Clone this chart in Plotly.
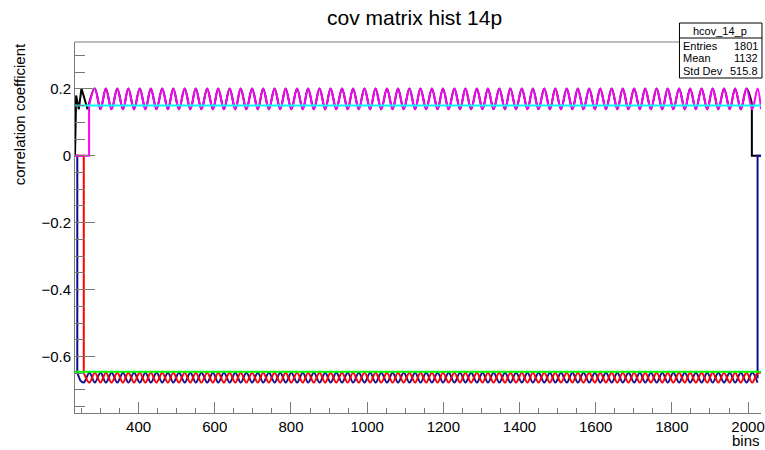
import plotly.graph_objects as go

# ---- axis ranges -------------------------------------------------------
X_MIN, X_MAX = 233, 2034
Y_MIN, Y_MAX = -0.769, 0.340

# ---- flat correlation lines --------------------------------------------
cyan_level = 0.150
green_level = -0.646

# ---- upper band (black / magenta): turning points, starting at a maximum
upper_high = 0.201
upper_low = 0.139
upper_turn_bins = [
    285, 300, 314, 329, 344, 359, 373, 388, 403, 418, 432, 447, 462, 477,
    491, 506, 521, 536, 550, 565, 580, 595, 609, 624, 639, 654, 668, 683,
    698, 713, 727, 742, 757, 772, 786, 801, 816, 831, 845, 860, 875, 890,
    904, 919, 934, 949, 963, 978, 993, 1008, 1022, 1037, 1052, 1067, 1081,
    1096, 1111, 1126, 1140, 1155, 1170, 1185, 1199, 1214, 1229, 1244, 1258,
    1273, 1288, 1303, 1317, 1332, 1347, 1362, 1376, 1391, 1406, 1421, 1435,
    1450, 1465, 1480, 1494, 1509, 1524, 1539, 1553, 1568, 1583, 1598, 1612,
    1627, 1642, 1657, 1671, 1686, 1701, 1716, 1730, 1745, 1760, 1775, 1789,
    1804, 1819, 1834, 1848, 1863, 1878, 1893, 1907, 1922, 1937, 1952, 1966,
    1981, 1996, 2011, 2025,
]

# ---- lower band (red / blue, opposite phase): turning points ------------
lower_high = -0.649
lower_low = -0.678
lower_turn_bins = [
    256, 271, 285, 300, 314, 329, 344, 359, 373, 388, 403, 418, 432, 447,
    462, 477, 491, 506, 521, 536, 550, 565, 580, 595, 609, 624, 639, 654,
    668, 683, 698, 713, 727, 742, 757, 772, 786, 801, 816, 831, 845, 860,
    875, 890, 904, 919, 934, 949, 963, 978, 993, 1008, 1022, 1037, 1052,
    1067, 1081, 1096, 1111, 1126, 1140, 1155, 1170, 1185, 1199, 1214, 1229,
    1244, 1258, 1273, 1288, 1303, 1317, 1332, 1347, 1362, 1376, 1391, 1406,
    1421, 1435, 1450, 1465, 1480, 1494, 1509, 1524, 1539, 1553, 1568, 1583,
    1598, 1612, 1627, 1642, 1657, 1671, 1686, 1701, 1716, 1730, 1745, 1760,
    1775, 1789, 1804, 1819, 1834, 1848, 1863, 1878, 1893, 1907, 1922, 1937,
    1952, 1966, 1981, 1996, 2011, 2025,
]

# ---- step segments at the ends of each histogram -------------------------
black_head_bins = [233, 236, 243, 250, 266]
black_head_vals = [0.0, 0.180, 0.139, 0.201, 0.139]
black_tail_bins = [2010, 2010, 2034]
black_tail_vals = [0.157, 0.0, 0.0]

magenta_head_bins = [233, 270, 270]
magenta_head_vals = [0.0, 0.0, 0.150]

blue_head_bins = [233, 239, 239, 247]
blue_head_vals = [0.0, 0.0, -0.649, -0.672]
blue_tail_bins = [2025, 2025, 2034]
blue_tail_vals = [-0.665, 0.0, 0.0]

red_head_bins = [233, 256, 256]
red_head_vals = [0.0, 0.0, -0.649]

# ---- statistics box ----------------------------------------------------
stats_name = "hcov_14_p"
stats_labels = ["Entries", "Mean", "Std Dev"]
stats_values = ["1801", "1132", "515.8"]

# ---- colours -----------------------------------------------------------
COL_BLACK = "#000000"
COL_RED = "#ff0000"
COL_BLUE = "#111190"
COL_GREEN = "#00ff00"
COL_MAGENTA = "#ff00ff"
COL_CYAN = "#00ffff"
AXIS_COL = "#7a7a7a"
FONT = "Liberation Sans, Arial, Helvetica, sans-serif"

W, H = 765, 450
L, R, T, B = 75, 0, 42, 37


def alternating(bins, first, second):
    return [first if i % 2 == 0 else second for i in range(len(bins))]


def px_x(p):
    return (p - L) / (W - L - R)


def px_y(p):
    return (H - B - p) / (H - T - B)


fig = go.Figure()


def add_line(xs, ys, color, spline=False, width=2):
    fig.add_trace(go.Scatter(
        x=xs, y=ys, mode="lines", showlegend=False, hoverinfo="skip",
        line=dict(color=color, width=width,
                  shape="spline" if spline else "linear", smoothing=1.0),
    ))


upper_vals = alternating(upper_turn_bins, upper_high, upper_low)
blue_vals = alternating(lower_turn_bins, lower_low, lower_high)
red_vals = alternating(lower_turn_bins, lower_high, lower_low)

# black histogram (mostly hidden below magenta)
add_line(black_head_bins, black_head_vals, COL_BLACK)
bk = [(b, v) for b, v in zip(upper_turn_bins, upper_vals) if b < black_tail_bins[0]]
add_line([black_head_bins[-1]] + [b for b, _ in bk] + [black_tail_bins[0]],
         [black_head_vals[-1]] + [v for _, v in bk] + [black_tail_vals[0]],
         COL_BLACK, spline=True)
add_line(black_tail_bins, black_tail_vals, COL_BLACK)

# blue histogram
add_line(blue_head_bins, blue_head_vals, COL_BLUE)
bl = [(b, v) for b, v in zip(lower_turn_bins, blue_vals) if b <= blue_tail_bins[0]]
add_line([blue_head_bins[-1]] + [b for b, _ in bl],
         [blue_head_vals[-1]] + [v for _, v in bl], COL_BLUE, spline=True)
add_line(blue_tail_bins, blue_tail_vals, COL_BLUE)

# red histogram
add_line(red_head_bins, red_head_vals, COL_RED)
add_line(lower_turn_bins + [X_MAX], red_vals + [lower_high], COL_RED, spline=True)

# magenta histogram
add_line(magenta_head_bins, magenta_head_vals, COL_MAGENTA)
add_line([magenta_head_bins[-1]] + upper_turn_bins + [X_MAX],
         [magenta_head_vals[-1]] + upper_vals + [upper_low], COL_MAGENTA, spline=True)

# flat lines
add_line([X_MIN, X_MAX], [green_level, green_level], COL_GREEN)
add_line([X_MIN, X_MAX], [cyan_level, cyan_level], COL_CYAN)

tickfont = dict(family=FONT, size=15, color="#000000")

fig.update_layout(
    width=W, height=H,
    margin=dict(l=L, r=R, t=T, b=B, pad=0),
    paper_bgcolor="#ffffff", plot_bgcolor="#ffffff",
    font=dict(family=FONT, color="#000000"),
    xaxis=dict(
        range=[X_MIN, X_MAX], showgrid=False, zeroline=False,
        showline=True, linecolor=AXIS_COL, linewidth=1,
        ticks="inside", ticklen=11, tickwidth=1, tickcolor=AXIS_COL,
        tick0=0, dtick=200, tickfont=tickfont, ticklabeloverflow="allow",
        minor=dict(ticks="inside", ticklen=5, tickwidth=1, tickcolor=AXIS_COL,
                   tick0=0, dtick=50, showgrid=False),
    ),
    yaxis=dict(
        range=[Y_MIN, Y_MAX], showgrid=False, zeroline=False,
        showline=True, linecolor=AXIS_COL, linewidth=1,
        ticks="inside", ticklen=20, tickwidth=1, tickcolor=AXIS_COL,
        tickvals=[-0.6, -0.4, -0.2, 0, 0.2],
        ticktext=["\u22120.6", "\u22120.4", "\u22120.2", "0", "0.2"],
        tickfont=tickfont,
        minor=dict(ticks="inside", ticklen=10, tickwidth=1, tickcolor=AXIS_COL,
                   tick0=0, dtick=0.05, showgrid=False),
    ),
)

# top edge of the frame
fig.add_shape(type="line", xref="paper", yref="paper", x0=0, x1=1, y0=1, y1=1,
              line=dict(color=AXIS_COL, width=1))

# title and axis titles
fig.add_annotation(text="cov matrix hist 14p", xref="paper", yref="paper",
                   x=px_x(416), y=px_y(17), showarrow=False,
                   font=dict(family=FONT, size=21, color="#000000"),
                   xanchor="center", yanchor="middle")
fig.add_annotation(text="correlation coefficient", xref="paper", yref="paper",
                   x=px_x(19), y=px_y(41), showarrow=False, textangle=-90,
                   font=dict(family=FONT, size=15, color="#000000"),
                   xanchor="center", yanchor="top")
fig.add_annotation(text="bins", xref="paper", yref="paper",
                   x=px_x(765), y=px_y(450), showarrow=False,
                   font=dict(family=FONT, size=15, color="#000000"),
                   xanchor="right", yanchor="bottom", borderpad=0)

# statistics box
bx0, bx1, by0, by1, bsep = 683, 766, 23, 78, 38
fig.add_shape(type="rect", xref="paper", yref="paper",
              x0=px_x(bx0), x1=px_x(bx1), y0=px_y(by1), y1=px_y(by0),
              line=dict(color="#000000", width=1), fillcolor="#ffffff", layer="above")
fig.add_shape(type="line", xref="paper", yref="paper",
              x0=px_x(bx0), x1=px_x(bx1), y0=px_y(bsep), y1=px_y(bsep),
              line=dict(color="#000000", width=1), layer="above")
fig.add_annotation(text=stats_name, xref="paper", yref="paper",
                   x=px_x((bx0 + 765) / 2), y=px_y(31), showarrow=False,
                   font=dict(family=FONT, size=11, color="#000000"),
                   xanchor="center", yanchor="middle")
for i, (lab, val) in enumerate(zip(stats_labels, stats_values)):
    yy = px_y(45.5 + i * 12.7)
    fig.add_annotation(text=lab, xref="paper", yref="paper", x=px_x(bx0 + 2), y=yy,
                       showarrow=False, xanchor="left", yanchor="middle",
                       font=dict(family=FONT, size=11, color="#000000"))
    fig.add_annotation(text=val, xref="paper", yref="paper", x=px_x(764), y=yy,
                       showarrow=False, xanchor="right", yanchor="middle",
                       font=dict(family=FONT, size=11, color="#000000"))

fig.write_html("out.html")
